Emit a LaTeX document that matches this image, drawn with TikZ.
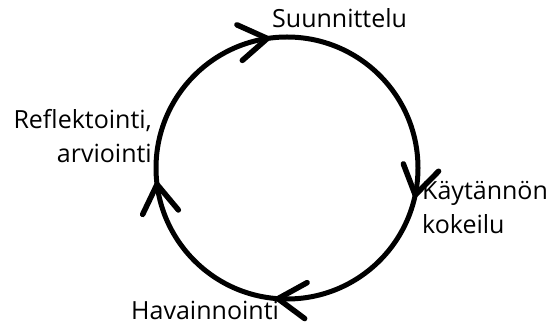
\documentclass[tikz,border=0pt]{standalone}
\usepackage{fontspec}
\setmainfont{Open Sans}
\usetikzlibrary{decorations.markings}

\tikzset{
	chevron/.style={line width=5.5pt, line cap=round, line join=round},
	label/.style={inner sep=0pt, font=\fontsize{25}{34}\selectfont},
	cycle/.style={line width=5pt,
		postaction={decorate, decoration={markings,
			mark=at position 0.033 with {\draw[chevron] (-28,18) -- (0,0) -- (-28,-18);},
			mark=at position 0.261 with {\draw[chevron] (-28,18) -- (0,0) -- (-28,-18);},
			mark=at position 0.480 with {\draw[chevron] (-28,18) -- (0,0) -- (-28,-18);},
			mark=at position 0.726 with {\draw[chevron] (-28,18) -- (0,0) -- (-28,-18);}}}}
}

\begin{document}
\begin{tikzpicture}[x=1pt, y=1pt]
	\useasboundingbox (0, 0) rectangle (549, 326);
	\coordinate (C) at (287, 158);

	% kierros myotapaivaan
	\draw[cycle] (C) ++(0:131) arc[start angle=0, end angle=-360, radius=131];

	\node[label, anchor=base west] (plan) at (272, 298) {Suunnittelu};
	\node[label, anchor=base west, align=left] (try) at (422, 92) {Käytännön\\kokeilu};
	\node[label, anchor=base west] (obs) at (131, 6) {Havainnointi};
	\node[label, anchor=base east, align=right] (refl) at (152, 163) {Reflektointi,\\arviointi};
\end{tikzpicture}
\end{document}
